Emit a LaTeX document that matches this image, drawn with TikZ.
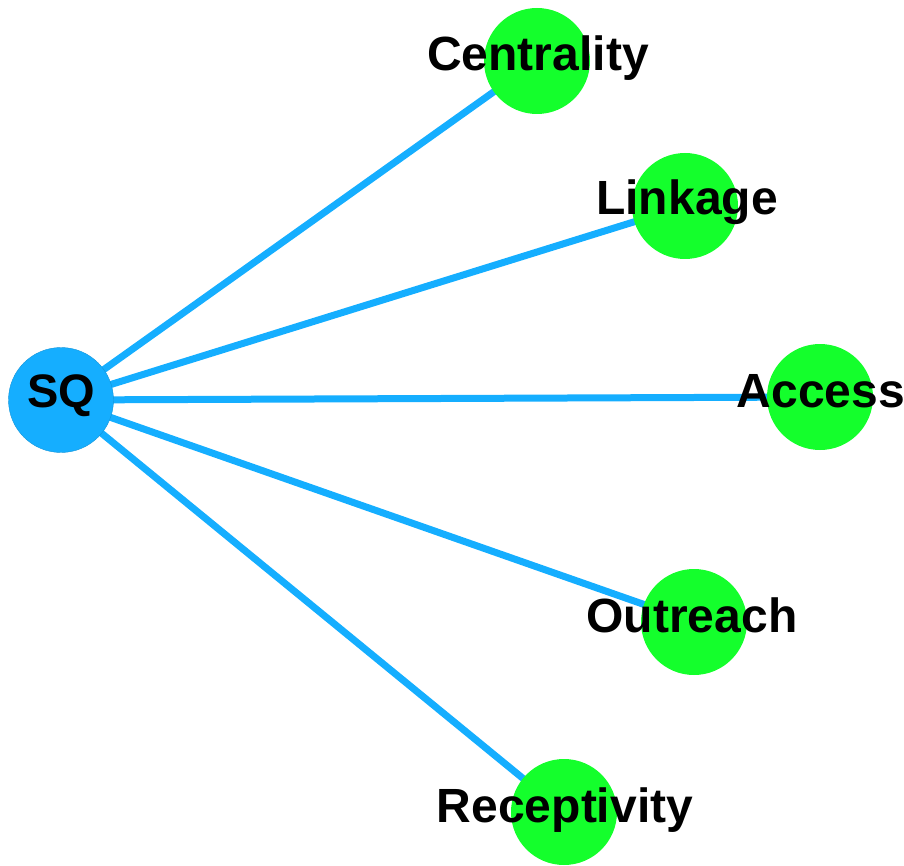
\documentclass[tikz,border=0pt]{standalone}
\usepackage{fontspec}
\setmainfont{Liberation Sans}
\definecolor{sqblue}{HTML}{15AEFF}
\definecolor{ngreen}{HTML}{14FF2C}
\begin{document}
\begin{tikzpicture}[x=1pt,y=-1pt,
  hub/.style={circle,fill=sqblue,draw=sqblue!85!black,line width=0.4pt,minimum size=105pt,inner sep=0pt},
  leaf/.style={circle,fill=ngreen,minimum size=106pt,inner sep=0pt},
  lbl/.style={font=\fontsize{48}{48}\selectfont\bfseries,inner sep=0pt},
  edge/.style={draw=sqblue,line width=7pt}]
\useasboundingbox (0,0) rectangle (904,866);
\coordinate (sq) at (61,400);
\coordinate (c) at (537,61);
\coordinate (l) at (685,206);
\coordinate (a) at (820,397);
\coordinate (o) at (694,622);
\coordinate (r) at (564,812);
\draw[edge] (sq) -- (c);
\draw[edge] (sq) -- (l);
\draw[edge] (sq) -- (a);
\draw[edge] (sq) -- (o);
\draw[edge] (sq) -- (r);
\node[hub] (nsq) at (sq) {};
\node[leaf] (nc) at (c) {};
\node[leaf] (nl) at (l) {};
\node[leaf] (na) at (a) {};
\node[leaf] (no) at (o) {};
\node[leaf] (nr) at (r) {};
\node[lbl,anchor=base,font=\fontsize{47}{47}\selectfont\bfseries] (tsq) at (61,407) {SQ};
\node[lbl,anchor=base] (tc) at (538,71) {Centrality};
\node[lbl,anchor=base] (tl) at (687,215) {Linkage};
\node[lbl,anchor=base] (ta) at (821,407) {Access};
\node[lbl,anchor=base] (to) at (692,632) {Outreach};
\node[lbl,anchor=base] (tr) at (565,822) {Receptivity};
\end{tikzpicture}
\end{document}
